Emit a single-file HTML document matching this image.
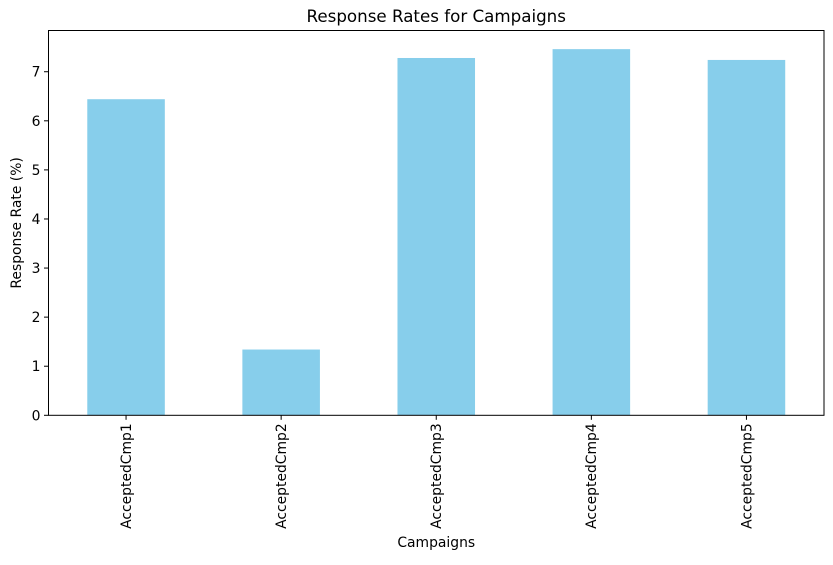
<!DOCTYPE html>
<html><head><meta charset="utf-8"><style>
body{margin:0;background:#fff;}
svg{font-family:"DejaVu Sans","Liberation Sans",sans-serif;}
</style></head><body>
<svg id="chart" width="833" height="560"></svg>
<script>
const categories=["AcceptedCmp1","AcceptedCmp2","AcceptedCmp3","AcceptedCmp4","AcceptedCmp5"];
const values=[6.44,1.34,7.28,7.46,7.24];
const yTicks=[0,1,2,3,4,5,6,7];
const L=48.5,R=824,T=30.5,B=415.3,YMAX=7.84;
const y=v=>B-(v/YMAX)*(B-T);
const step=(R-L)/categories.length;
const x=i=>L+step*(i+0.5);
const svg=document.getElementById('chart');
const NS='http://www.w3.org/2000/svg';
function mk(tag,attrs,txt){const e=document.createElementNS(NS,tag);for(const k in attrs)e.setAttribute(k,attrs[k]);if(txt!==undefined)e.textContent=txt;svg.appendChild(e);return e;}
categories.forEach((c,i)=>{
  const bw=step*0.5;
  const r=mk('rect',{x:x(i)-bw/2,y:y(values[i]),width:bw,height:B-y(values[i]),fill:'#87ceeb'});
  
  
  const t=mk('line',{x1:x(i),x2:x(i),y1:B,y2:B+4.5,stroke:'#000','stroke-width':1});
  
  
  const lb=mk('text',{x:0,y:0,transform:`translate(${x(i)+4.8},${B+8}) rotate(-90)`,'text-anchor':'end','font-size':13.9},c);
  
  
});
yTicks.forEach(v=>{
  const t=mk('line',{x1:L-4.5,x2:L,y1:y(v),y2:y(v),stroke:'#000','stroke-width':1});
  
  
  const lb=mk('text',{x:L-8,y:y(v)+5,'text-anchor':'end','font-size':13.9},v);
  
  
});
const fr=mk('rect',{x:L,y:T,width:R-L,height:B-T,fill:'none',stroke:'#000','stroke-width':1});


const ti=mk('text',{x:(L+R)/2,y:22,'text-anchor':'middle','font-size':16.7},'Response Rates for Campaigns');


const xt=mk('text',{x:(L+R)/2,y:547,'text-anchor':'middle','font-size':13.9},'Campaigns');


const yt=mk('text',{x:0,y:0,transform:`translate(21,${(T+B)/2}) rotate(-90)`,'text-anchor':'middle','font-size':13.9},'Response Rate (%)');


</script>
</body></html>
